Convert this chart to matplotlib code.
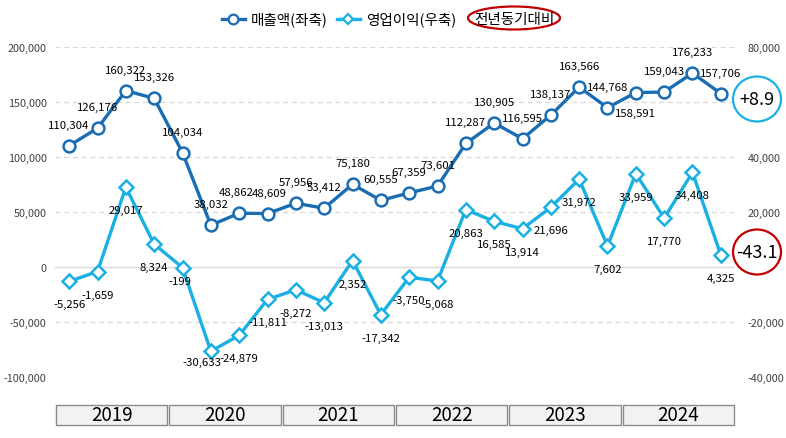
import matplotlib
matplotlib.use("Agg")
import matplotlib.pyplot as plt
from matplotlib.patches import Rectangle, Ellipse
from matplotlib.lines import Line2D
from matplotlib.ticker import FuncFormatter, MultipleLocator
from matplotlib.transforms import blended_transform_factory

plt.rcParams['font.family'] = ['Noto Sans CJK KR', 'DejaVu Sans']

# quarterly data 2019 Q1 - 2024 Q4
years = ['2019', '2020', '2021', '2022', '2023', '2024']
revenue = [110304, 126176, 160322, 153326, 104034, 38032, 48862, 48609,
           57956, 53412, 75180, 60555, 67359, 73601, 112287, 130905,
           116595, 138137, 163566, 144768, 158591, 159043, 176233, 157706]
profit = [-5256, -1659, 29017, 8324, -199, -30633, -24879, -11811,
          -8272, -13013, 2352, -17342, -3750, -5068, 20863, 16585,
          13914, 21696, 31972, 7602, 33959, 17770, 34408, 4325]
yoy_revenue = 8.9
yoy_profit = -43.1

# label offsets in pixels (dx, dy)
rev_offsets = [(0, 21)] * 24
rev_offsets[6] = (-3, 21)
rev_offsets[7] = (2, 21)
rev_offsets[20] = (0, -20)
prof_offsets = [(0, -23)] * 24
prof_offsets[4] = (-3, -13)
prof_offsets[5] = (-9, -11)

c_rev = '#1a6db3'
c_prof = '#1ab0e4'
c_red = '#c00000'

fig = plt.figure(figsize=(7.86, 4.39), dpi=100)
ax = fig.add_axes([55 / 786, (439 - 378) / 439, 680 / 786, 330 / 439])
ax2 = ax.twinx()

x = list(range(len(revenue)))

ax.set_ylim(-100000, 200000)
ax2.set_ylim(-40000, 80000)
ax.set_xlim(-0.5, len(revenue) - 0.5)
ax.yaxis.set_major_locator(MultipleLocator(50000))
ax2.set_yticks([-40000, -20000, 0, 20000, 40000, 80000])

fmt = FuncFormatter(lambda v, p: f"{v:,.0f}")
ax.yaxis.set_major_formatter(fmt)
ax2.yaxis.set_major_formatter(fmt)

for a in (ax, ax2):
    for s in a.spines.values():
        s.set_visible(False)
    a.tick_params(length=0, labelsize=7.8, colors='#404040')
ax.set_xticks([])
ax.tick_params(axis='y', pad=6)
ax2.tick_params(axis='y', pad=9)

for v in range(-100000, 200001, 50000):
    if v == 0:
        ax.axhline(v, color='#d9d9d9', lw=1, zorder=0)
    else:
        ax.axhline(v, color='#d9d9d9', lw=0.9, ls=(0, (4, 3)), zorder=0)

ax.plot(x, revenue, color=c_rev, lw=2.4, marker='o', ms=8.5,
        mfc='white', mec=c_rev, mew=1.8, zorder=3)
ax2.plot(x, profit, color=c_prof, lw=2.4, marker='D', ms=7.5,
         mfc='white', mec=c_prof, mew=1.8, zorder=3)

for i, v in enumerate(revenue):
    ax.annotate(f"{v:,}", (i, v), xytext=rev_offsets[i], textcoords='offset pixels',
                ha='center', va='center', fontsize=8.2, color='black', zorder=5)
for i, v in enumerate(profit):
    ax2.annotate(f"{v:,}", (i, v), xytext=prof_offsets[i], textcoords='offset pixels',
                 ha='center', va='center', fontsize=8.2, color='black', zorder=5)

# year boxes under the axis
tr = blended_transform_factory(ax.transData, fig.transFigure)
for k, yr in enumerate(years):
    x0 = -0.5 + 4 * k + 0.03
    ax.add_patch(Rectangle((x0, 13 / 439), 3.94, 20 / 439, transform=tr,
                           facecolor='#f2f2f2', edgecolor='#8c8c8c', lw=1,
                           clip_on=False))
    ax.text(x0 + 1.97, 23 / 439, yr, transform=tr, ha='center', va='center',
            fontsize=13.5, color='black')

# legend
fig.add_artist(Line2D([222 / 786, 245 / 786], [419 / 439, 419 / 439], color=c_rev, lw=2.4,
                      transform=fig.transFigure))
fig.add_artist(Line2D([233 / 786], [419 / 439], marker='o', ms=7, mfc='white', mec=c_rev,
                      mew=1.6, transform=fig.transFigure))
fig.text(251 / 786, 419 / 439, '매출액(좌축)', ha='left', va='center', fontsize=10.5)
fig.add_artist(Line2D([337 / 786, 360 / 786], [419 / 439, 419 / 439], color=c_prof, lw=2.4,
                      transform=fig.transFigure))
fig.add_artist(Line2D([348 / 786], [419 / 439], marker='D', ms=5.5, mfc='white', mec=c_prof,
                      mew=1.6, transform=fig.transFigure))
fig.text(366 / 786, 419 / 439, '영업이익(우축)', ha='left', va='center', fontsize=10.5)
fig.add_artist(Ellipse((514 / 786, 420 / 439), 92 / 786, 23 / 439, facecolor='none',
                       edgecolor=c_red, lw=1.6, transform=fig.transFigure))
fig.text(514 / 786, 419 / 439, '전년동기대비', ha='center', va='center', fontsize=10.5)

# yoy circles on the right
for val, col, yc in [(yoy_revenue, c_prof, 100), (yoy_profit, c_red, 253)]:
    fig.add_artist(Ellipse((757 / 786, (439 - yc) / 439), 48 / 786, 45 / 439,
                           facecolor='white', edgecolor=col, lw=1.6,
                           transform=fig.transFigure))
    fig.text(757 / 786, (439 - yc) / 439, f"{val:+.1f}", ha='center', va='center',
             fontsize=13, color='black')

fig.savefig('out.png', dpi=100)
